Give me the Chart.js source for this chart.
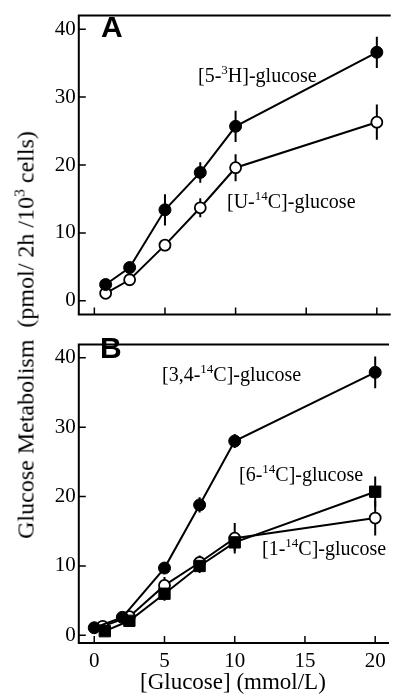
<!DOCTYPE html>
<html><head><meta charset="utf-8">
<script src="https://cdn.jsdelivr.net/npm/chart.js@4.4.1/dist/chart.umd.min.js"></script>
<style>
html,body{margin:0;padding:0;background:#fff;overflow:hidden;width:396px;height:697px;}
body{font-family:"Liberation Serif","Times New Roman",serif;color:#000;}
#wrap{position:relative;width:396px;height:697px;overflow:hidden;}
canvas{position:absolute;left:0;}
.t{position:absolute;white-space:nowrap;font-size:20px;line-height:normal;}
.s{font-size:0.65em;position:relative;top:-0.6em;}
.p{position:absolute;font-family:"Liberation Sans",Arial,sans-serif;font-weight:bold;font-size:30px;line-height:normal;}
.yt{position:absolute;left:25.5px;top:335px;white-space:nowrap;font-size:24px;line-height:normal;transform:translate(-50%,-50%) rotate(-90deg);}
</style></head>
<body>
<div id="wrap">
<canvas id="cA" width="396" height="330" style="top:0"></canvas>
<canvas id="cB" width="396" height="368" style="top:329px"></canvas>
<div class="p" style="left:101px;top:10px">A</div>
<div class="p" style="left:100px;top:331px">B</div>
<div class="t" style="left:198px;top:64px">[5-<span class="s">3</span>H]-glucose</div>
<div class="t" style="left:227px;top:190px">[U-<span class="s">14</span>C]-glucose</div>
<div class="t" style="left:162px;top:363px">[3,4-<span class="s">14</span>C]-glucose</div>
<div class="t" style="left:239px;top:463px">[6-<span class="s">14</span>C]-glucose</div>
<div class="t" style="left:262px;top:537px">[1-<span class="s">14</span>C]-glucose</div>
<div class="yt">Glucose Metabolism&nbsp;&nbsp;(pmol/ 2h /10<span class="s">3</span> cells)</div>
</div>
<script>
// ---- data ----
const xTicks = [0, 5, 10, 15, 20];
const yTicks = [0, 10, 20, 30, 40];

// Panel A
const xA = [0.8, 2.5, 5, 7.5, 10, 20];
const a_5H3 = [2.4, 4.9, 13.4, 18.9, 25.7, 36.6];
const a_5H3_err = [0.5, 0.6, 2.3, 1.5, 2.3, 2.3];
const a_U14C = [1.1, 3.1, 8.2, 13.7, 19.6, 26.3];
const a_U14C_err = [0.4, 0.5, 0.9, 1.4, 2.0, 2.6];

// Panel B
const xB_34 = [0, 2, 5, 7.5, 10, 20];
const b_34C = [1.1, 2.6, 9.7, 18.8, 28.0, 37.9];
const b_34C_err = [0.3, 0.4, 0.6, 1.1, 1.0, 2.3];
const xB_1 = [0.6, 2.5, 5, 7.5, 10, 20];
const b_1C = [1.3, 2.7, 7.2, 10.5, 14.0, 16.9];
const b_1C_err = [0.3, 0.4, 1.2, 1.0, 2.2, 2.5];
const xB_6 = [0.75, 2.5, 5, 7.5, 10, 20];
const b_6C = [0.6, 2.1, 6.0, 10.0, 13.4, 20.7];
const b_6C_err = [0.3, 0.4, 1.0, 1.0, 1.2, 2.2];

const pts = (xs, ys) => xs.map((x, i) => ({x, y: ys[i]}));
const FONT = "'Liberation Serif','Times New Roman',serif";

function ds(xs, ys, errs, kind, order) {
  const base = {
    data: pts(xs, ys), errors: errs, order,
    borderColor: '#000', borderWidth: 2, showLine: true, tension: 0,
    pointBorderColor: '#000'
  };
  if (kind === 'filled') Object.assign(base, {pointStyle: 'circle', pointRadius: 6, pointBorderWidth: 1, pointBackgroundColor: '#000'});
  if (kind === 'open') Object.assign(base, {pointStyle: 'circle', pointRadius: 5.5, pointBorderWidth: 1.8, pointBackgroundColor: '#fff'});
  if (kind === 'square') Object.assign(base, {pointStyle: 'rect', pointRadius: 8, pointBorderWidth: 1, pointBackgroundColor: '#000'});
  return base;
}

const framePlugin = {
  id: 'frame',
  beforeDatasetsDraw(chart) {
    const {ctx, chartArea: a, scales: {x, y}} = chart;
    ctx.save();
    ctx.strokeStyle = '#000';
    ctx.lineWidth = 2;
    ctx.beginPath();
    ctx.moveTo(a.right + 2, a.top);
    ctx.lineTo(a.left, a.top);
    ctx.lineTo(a.left, a.bottom);
    ctx.lineTo(a.right + 2, a.bottom);
    ctx.stroke();
    ctx.lineWidth = 1.5;
    ctx.beginPath();
    yTicks.forEach(v => { const p = y.getPixelForValue(v); ctx.moveTo(a.left, p); ctx.lineTo(a.left + 7, p); });
    xTicks.forEach(v => { const p = x.getPixelForValue(v); ctx.moveTo(p, a.bottom); ctx.lineTo(p, a.bottom - 7); });
    ctx.stroke();
    // error bars
    ctx.lineWidth = 2;
    chart.data.datasets.forEach(d => {
      if (!d.errors) return;
      ctx.beginPath();
      d.data.forEach((pt, i) => {
        const e = d.errors[i];
        const px = x.getPixelForValue(pt.x);
        ctx.moveTo(px, y.getPixelForValue(pt.y - e));
        ctx.lineTo(px, y.getPixelForValue(pt.y + e));
      });
      ctx.stroke();
    });
    ctx.restore();
  }
};

function makeChart(id, datasets, yMin, yMax, bottomAxis, pad) {
  return new Chart(document.getElementById(id), {
    type: 'scatter',
    data: {datasets},
    options: {
      responsive: false, animation: false, devicePixelRatio: 1,
      layout: {padding: pad},
      plugins: {legend: {display: false}, tooltip: {enabled: false}},
      scales: {
        x: {
          type: 'linear', min: -1.1, max: 20.84,
          display: bottomAxis,
          afterBuildTicks: s => { s.ticks = xTicks.map(v => ({value: v})); },
          afterFit: s => { if (bottomAxis) s.height = 54; },
          grid: {display: false, drawTicks: false},
          border: {display: false},
          ticks: {color: '#000', font: {family: FONT, size: 21}, padding: 6, maxRotation: 0},
          title: {display: bottomAxis, text: '[Glucose] (mmol/L)', color: '#000', font: {family: FONT, size: 23}, padding: 0}
        },
        y: {
          type: 'linear', min: yMin, max: yMax,
          afterBuildTicks: s => { s.ticks = yTicks.map(v => ({value: v})); },
          afterFit: s => { s.width = 78.8; },
          grid: {display: false, drawTicks: false},
          border: {display: false},
          ticks: {color: '#000', font: {family: FONT, size: 21}, padding: 3}
        }
      }
    },
    plugins: [framePlugin]
  });
}

makeChart('cA', [
  ds(xA, a_U14C, a_U14C_err, 'open', 2),
  ds(xA, a_5H3, a_5H3_err, 'filled', 1)
], -2, 42, false, {top: 9, bottom: 1, left: 0, right: 0});

makeChart('cB', [
  ds(xB_1, b_1C, b_1C_err, 'open', 3),
  ds(xB_34, b_34C, b_34C_err, 'filled', 2),
  ds(xB_6, b_6C, b_6C_err, 'square', 1)
], -1.1, 41.9, true, {top: 0.3, bottom: 0, left: 0, right: 0});
</script>
</body></html>
